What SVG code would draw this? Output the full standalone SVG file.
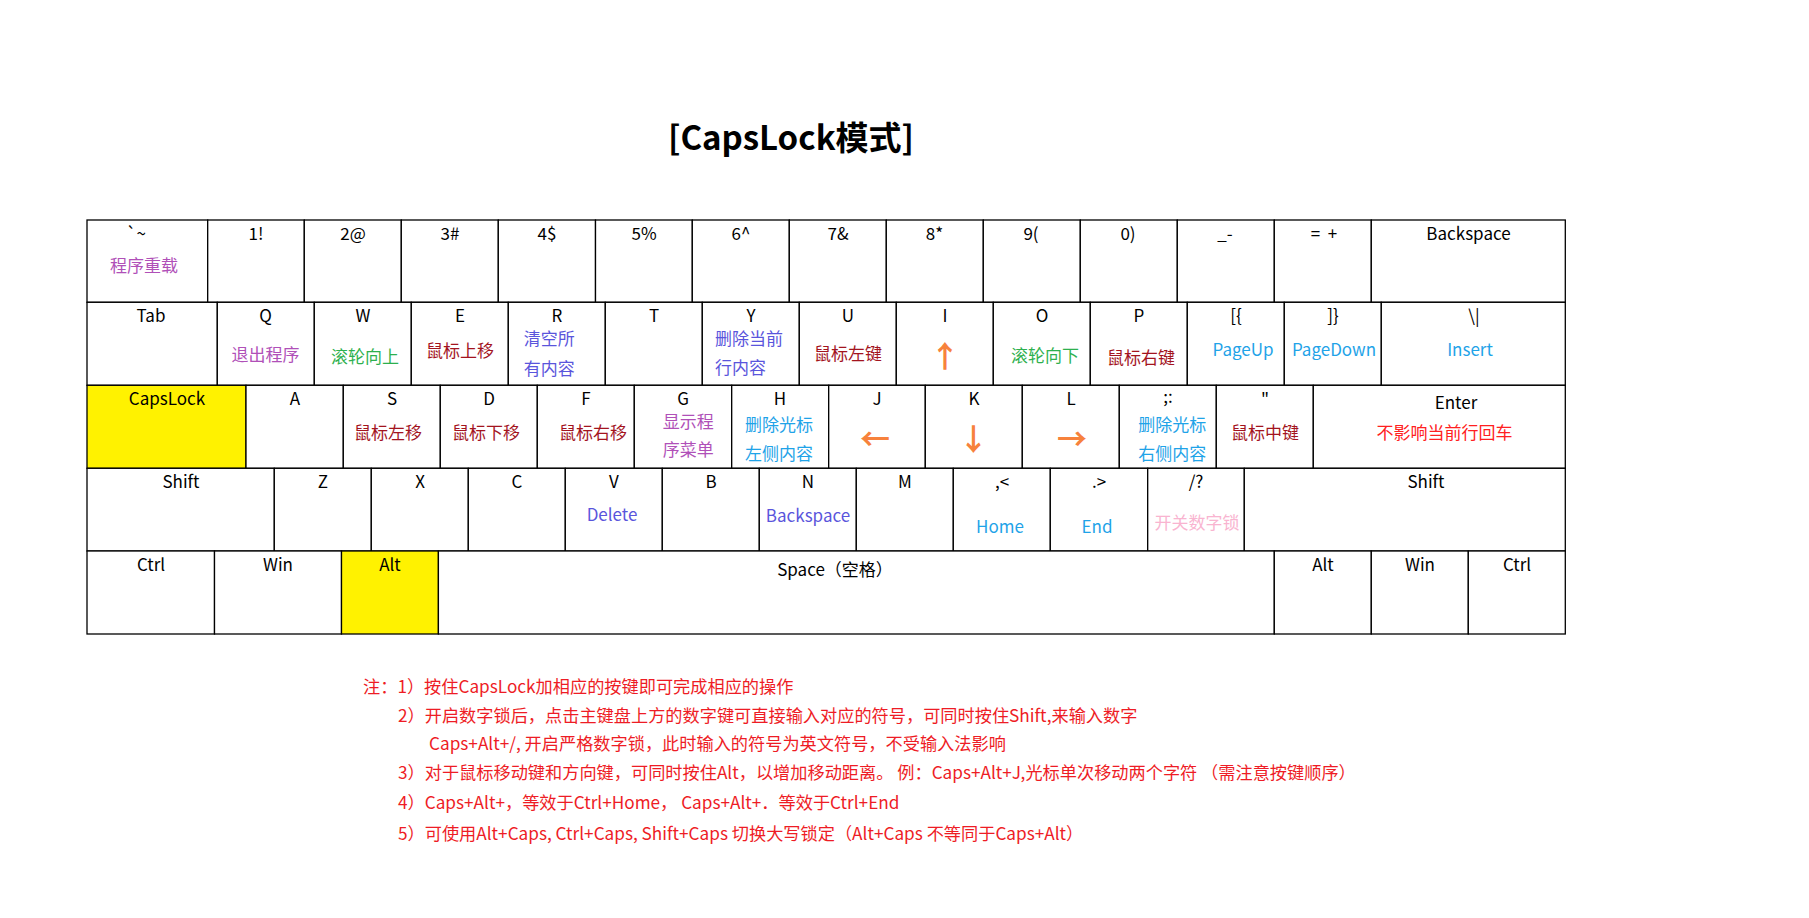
<svg xmlns="http://www.w3.org/2000/svg" width="1809" height="918" viewBox="0 0 1809 918">
<style>
text{font-family:"Noto Sans CJK SC","Noto Sans",sans-serif;font-size:17px;fill:#000;text-anchor:middle}
.k{fill:#fff;stroke:#000;stroke-width:1.3}
.yk{fill:#FFF200;stroke:#000;stroke-width:1.3}
.lt{text-anchor:start}
.pu{fill:#B050B8}
.gr{fill:#2DB04E}
.dr{fill:#A3141E}
.bp{fill:#5A55DC}
.cy{fill:#1FA3E8}
.rd{fill:#FF2020}
.pk{fill:#F9B4D0}
.ar{fill:#F7823C;font-size:30px;font-weight:bold}
.note{fill:#EE1C25;text-anchor:start;font-size:17.2px}
.title{font-size:33px;font-weight:bold}
</style>
<rect width="1809" height="918" fill="#fff"/>
<text class="title" x="791" y="150">[CapsLock模式]</text>

<g id="row1">
<g id="k-tilde"><rect class="k" x="87" y="220" width="120.7" height="82.3"/><text x="136" y="240">`~</text><text class="pu" x="144" y="272">程序重载</text></g>
<g id="k-1"><rect class="k" x="207.7" y="220" width="96.6" height="82.3"/><text x="256" y="240">1!</text></g>
<g id="k-2"><rect class="k" x="304.3" y="220" width="97" height="82.3"/><text x="353" y="240">2@</text></g>
<g id="k-3"><rect class="k" x="401.3" y="220" width="97" height="82.3"/><text x="450" y="240">3#</text></g>
<g id="k-4"><rect class="k" x="498.3" y="220" width="97.2" height="82.3"/><text x="547" y="240">4$</text></g>
<g id="k-5"><rect class="k" x="595.5" y="220" width="96.8" height="82.3"/><text x="644" y="240">5%</text></g>
<g id="k-6"><rect class="k" x="692.3" y="220" width="97" height="82.3"/><text x="741" y="240">6^</text></g>
<g id="k-7"><rect class="k" x="789.3" y="220" width="97" height="82.3"/><text x="838" y="240">7&amp;</text></g>
<g id="k-8"><rect class="k" x="886.3" y="220" width="97" height="82.3"/><text x="934.5" y="240">8*</text></g>
<g id="k-9"><rect class="k" x="983.3" y="220" width="97" height="82.3"/><text x="1031" y="240">9(</text></g>
<g id="k-0"><rect class="k" x="1080.3" y="220" width="97" height="82.3"/><text x="1128" y="240">0)</text></g>
<g id="k-minus"><rect class="k" x="1177.3" y="220" width="97" height="82.3"/><text x="1225" y="240">_-</text></g>
<g id="k-equal"><rect class="k" x="1274.3" y="220" width="97" height="82.3"/><text x="1324" y="240" xml:space="preserve">=  +</text></g>
<g id="k-backspace"><rect class="k" x="1371.3" y="220" width="194" height="82.3"/><text x="1468.5" y="240">Backspace</text></g>
</g>

<g id="row2">
<g id="k-tab"><rect class="k" x="87" y="302.3" width="130.3" height="83"/><text x="151" y="322">Tab</text></g>
<g id="k-q"><rect class="k" x="217.3" y="302.3" width="97" height="83"/><text x="265.5" y="322">Q</text><text class="pu" x="265.5" y="361">退出程序</text></g>
<g id="k-w"><rect class="k" x="314.3" y="302.3" width="97" height="83"/><text x="363" y="322">W</text><text class="gr" x="365" y="363">滚轮向上</text></g>
<g id="k-e"><rect class="k" x="411.3" y="302.3" width="97" height="83"/><text x="460" y="322">E</text><text class="dr" x="460" y="357">鼠标上移</text></g>
<g id="k-r"><rect class="k" x="508.3" y="302.3" width="97" height="83"/><text x="557" y="322">R</text><text class="bp lt" x="523.8" y="345">清空所</text><text class="bp lt" x="523.8" y="374.5">有内容</text></g>
<g id="k-t"><rect class="k" x="605.3" y="302.3" width="97" height="83"/><text x="654" y="322">T</text></g>
<g id="k-y"><rect class="k" x="702.3" y="302.3" width="97" height="83"/><text x="751" y="322">Y</text><text class="bp lt" x="715" y="345">删除当前</text><text class="bp lt" x="715" y="374">行内容</text></g>
<g id="k-u"><rect class="k" x="799.3" y="302.3" width="97" height="83"/><text x="848" y="322">U</text><text class="dr" x="848" y="359.5">鼠标左键</text></g>
<g id="k-i"><rect class="k" x="896.3" y="302.3" width="97" height="83"/><text x="945" y="322">I</text><text class="ar" x="945" y="367">↑</text></g>
<g id="k-o"><rect class="k" x="993.3" y="302.3" width="97" height="83"/><text x="1042" y="322">O</text><text class="gr" x="1045" y="362">滚轮向下</text></g>
<g id="k-p"><rect class="k" x="1090.3" y="302.3" width="97" height="83"/><text x="1139" y="322">P</text><text class="dr" x="1141" y="363.5">鼠标右键</text></g>
<g id="k-lbracket"><rect class="k" x="1187.3" y="302.3" width="97" height="83"/><text x="1236" y="322">[{</text><text class="cy" x="1243" y="356">PageUp</text></g>
<g id="k-rbracket"><rect class="k" x="1284.3" y="302.3" width="97" height="83"/><text x="1333" y="322">]}</text><text class="cy" x="1334" y="356">PageDown</text></g>
<g id="k-backslash"><rect class="k" x="1381.3" y="302.3" width="184" height="83"/><text x="1474" y="322">\|</text><text class="cy" x="1470" y="356">Insert</text></g>
</g>

<g id="row3">
<g id="k-capslock"><rect class="yk" x="87" y="385.3" width="159" height="83"/><text x="167" y="405">CapsLock</text></g>
<g id="k-a"><rect class="k" x="246" y="385.3" width="97.3" height="83"/><text x="295" y="405">A</text></g>
<g id="k-s"><rect class="k" x="343.3" y="385.3" width="97" height="83"/><text x="392" y="405">S</text><text class="dr" x="388" y="438.5">鼠标左移</text></g>
<g id="k-d"><rect class="k" x="440.3" y="385.3" width="97" height="83"/><text x="489" y="405">D</text><text class="dr" x="486" y="439">鼠标下移</text></g>
<g id="k-f"><rect class="k" x="537.3" y="385.3" width="97" height="83"/><text x="586" y="405">F</text><text class="dr" x="593" y="438.5">鼠标右移</text></g>
<g id="k-g"><rect class="k" x="634.3" y="385.3" width="97.4" height="83"/><text x="683" y="405">G</text><text class="pu lt" x="662.7" y="428">显示程</text><text class="pu lt" x="662.7" y="456">序菜单</text></g>
<g id="k-h"><rect class="k" x="731.7" y="385.3" width="97" height="83"/><text x="780" y="405">H</text><text class="cy lt" x="745" y="430.5">删除光标</text><text class="cy lt" x="745" y="459.5">左侧内容</text></g>
<g id="k-j"><rect class="k" x="828.7" y="385.3" width="96.6" height="83"/><text x="877" y="405">J</text><text class="ar" x="875" y="450">←</text></g>
<g id="k-k"><rect class="k" x="925.3" y="385.3" width="97" height="83"/><text x="974" y="405">K</text><text class="ar" x="973.5" y="450">↓</text></g>
<g id="k-l"><rect class="k" x="1022.3" y="385.3" width="97" height="83"/><text x="1071" y="405">L</text><text class="ar" x="1072" y="450">→</text></g>
<g id="k-semicolon"><rect class="k" x="1119.3" y="385.3" width="97" height="83"/><text x="1168" y="403">;:</text><text class="cy lt" x="1138.3" y="430.5">删除光标</text><text class="cy lt" x="1138.3" y="459.5">右侧内容</text></g>
<g id="k-quote"><rect class="k" x="1216.3" y="385.3" width="97" height="83"/><text x="1265" y="405">"</text><text class="dr" x="1265" y="438.5">鼠标中键</text></g>
<g id="k-enter"><rect class="k" x="1313.3" y="385.3" width="252" height="83"/><text x="1456" y="409">Enter</text><text class="rd" x="1444.5" y="439">不影响当前行回车</text></g>
</g>

<g id="row4">
<g id="k-lshift"><rect class="k" x="87" y="468.3" width="187.3" height="82.7"/><text x="181" y="488">Shift</text></g>
<g id="k-z"><rect class="k" x="274.3" y="468.3" width="97" height="82.7"/><text x="323" y="488">Z</text></g>
<g id="k-x"><rect class="k" x="371.3" y="468.3" width="97" height="82.7"/><text x="420" y="488">X</text></g>
<g id="k-c"><rect class="k" x="468.3" y="468.3" width="97" height="82.7"/><text x="517" y="488">C</text></g>
<g id="k-v"><rect class="k" x="565.3" y="468.3" width="97" height="82.7"/><text x="614" y="488">V</text><text class="bp" x="612" y="520.5">Delete</text></g>
<g id="k-b"><rect class="k" x="662.3" y="468.3" width="97" height="82.7"/><text x="711" y="488">B</text></g>
<g id="k-n"><rect class="k" x="759.3" y="468.3" width="97" height="82.7"/><text x="808" y="488">N</text><text class="bp" x="808" y="521.5">Backspace</text></g>
<g id="k-m"><rect class="k" x="856.3" y="468.3" width="97" height="82.7"/><text x="905" y="488">M</text></g>
<g id="k-comma"><rect class="k" x="953.3" y="468.3" width="97" height="82.7"/><text x="1002" y="488">,&lt;</text><text class="cy" x="1000" y="533">Home</text></g>
<g id="k-period"><rect class="k" x="1050.3" y="468.3" width="97.4" height="82.7"/><text x="1099" y="488">.&gt;</text><text class="cy" x="1097" y="533">End</text></g>
<g id="k-slash"><rect class="k" x="1147.7" y="468.3" width="96.6" height="82.7"/><text x="1196" y="488">/?</text><text class="pk" x="1197" y="528.5">开关数字锁</text></g>
<g id="k-rshift"><rect class="k" x="1244.3" y="468.3" width="321" height="82.7"/><text x="1426" y="488">Shift</text></g>
</g>

<g id="row5">
<g id="k-lctrl"><rect class="k" x="87" y="551" width="127.5" height="83"/><text x="151" y="571">Ctrl</text></g>
<g id="k-lwin"><rect class="k" x="214.5" y="551" width="127" height="83"/><text x="278" y="571">Win</text></g>
<g id="k-lalt"><rect class="yk" x="341.5" y="551" width="96.9" height="83"/><text x="390" y="571">Alt</text></g>
<g id="k-space"><rect class="k" x="438.4" y="551" width="835.9" height="83"/><text x="835" y="576">Space（空格）</text></g>
<g id="k-ralt"><rect class="k" x="1274.3" y="551" width="97" height="83"/><text x="1323" y="571">Alt</text></g>
<g id="k-rwin"><rect class="k" x="1371.3" y="551" width="97" height="83"/><text x="1420" y="571">Win</text></g>
<g id="k-rctrl"><rect class="k" x="1468.3" y="551" width="97" height="83"/><text x="1517" y="571">Ctrl</text></g>
</g>

<g id="connectors"></g>

<g id="notes">
<text class="note" x="363" y="692.5">注：1）按住CapsLock加相应的按键即可完成相应的操作</text>
<text class="note" x="398" y="721.5">2）开启数字锁后，点击主键盘上方的数字键可直接输入对应的符号，可同时按住Shift,来输入数字</text>
<text class="note" x="429" y="750">Caps+Alt+/, 开启严格数字锁，此时输入的符号为英文符号，不受输入法影响</text>
<text class="note" x="398" y="779">3）对于鼠标移动键和方向键，可同时按住Alt，以增加移动距离。 例：Caps+Alt+J,光标单次移动两个字符 （需注意按键顺序）</text>
<text class="note" x="398" y="809">4）Caps+Alt+，等效于Ctrl+Home， Caps+Alt+．等效于Ctrl+End</text>
<text class="note" x="398" y="840">5）可使用Alt+Caps, Ctrl+Caps, Shift+Caps 切换大写锁定（Alt+Caps 不等同于Caps+Alt）</text>
</g>
</svg>
